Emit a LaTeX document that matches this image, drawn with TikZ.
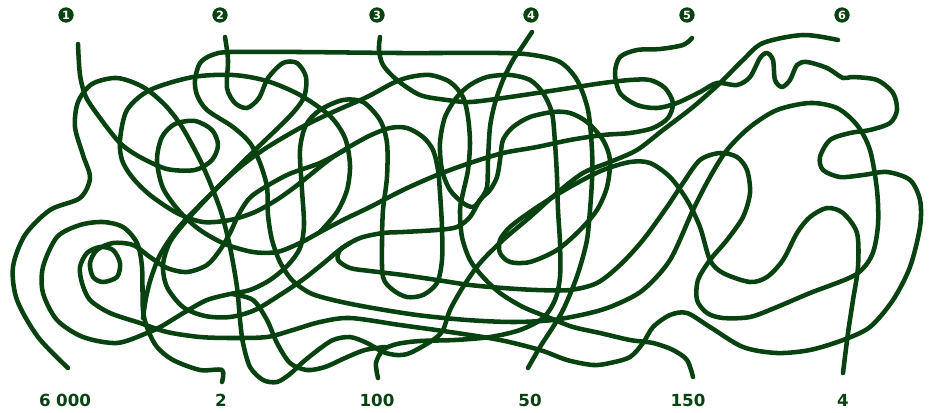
\documentclass[tikz,border=0pt]{standalone}
\usepackage{fontspec}
\setmainfont{DejaVu Sans}
\definecolor{ln}{RGB}{8,66,16}
\tikzset{
  wire/.style={draw=ln, line width=3.4pt, line cap=round, line join=round},
  toplab/.style={circle, fill=ln, inner sep=0pt, minimum size=11.5pt, text=white, font=\bfseries\fontsize{8.5}{8.5}\selectfont},
  botlab/.style={text=ln, inner sep=0pt, font=\bfseries\fontsize{12.5}{12.5}\selectfont}
}
\begin{document}
\begin{tikzpicture}[x=0.75pt,y=-0.75pt]
\useasboundingbox (0,0) rectangle (933,412);
% labels
\node[toplab] (t1) at (66,15) {1};
\node[toplab] (t2) at (220,15) {2};
\node[toplab] (t3) at (377,15) {3};
\node[toplab] (t4) at (531,15) {4};
\node[toplab] (t5) at (687,15) {5};
\node[toplab] (t6) at (842,15) {6};
\node[botlab] (b1) at (65,400) {6\,\,000};
\node[botlab] (b2) at (221,400) {2};
\node[botlab] (b3) at (377,400) {100};
\node[botlab] (b4) at (530,400) {50};
\node[botlab] (b5) at (688,400) {150};
\node[botlab] (b6) at (843,400) {4};
% line from 6 to 6 000
\draw[wire] plot[smooth] coordinates {(838,40) (803,35) (763,43) (743,60) (720,83) (693,107) (663,130) (637,150) (610,162) (583,173) (557,193) (530,217) (503,240) (480,263) (463,287) (450,310) (443,330) (433,340) (410,353) (397,355) (383,352) (367,343) (350,337) (333,340) (318,350) (303,362) (290,374) (277,382) (263,380) (250,367) (243,343) (240,320) (237,287) (230,247) (222,215) (213,190) (200,160) (182,127) (165,105) (143,87) (117,78) (92,84) (78,102) (75,127) (83,155) (90,178) (80,198) (50,210) (25,235) (13,267) (17,300) (38,337) (68,368)};
% line 1 ... loop ... line 3
\draw[wire] plot[smooth] coordinates {(78,44) (80,75) (86,97) (100,118) (120,143) (140,157) (167,169) (195,170) (212,160) (218,145) (212,130) (195,121) (175,124) (162,137) (157,160) (163,188) (180,212) (200,230) (225,244) (253,252) (277,252) (300,243) (322,231) (345,219) (370,207) (403,190) (437,175) (470,163) (503,153) (537,147) (570,140) (603,135) (630,133) (653,128) (668,118) (673,103) (665,88) (650,80) (630,80) (603,83) (570,88) (537,93) (503,98) (470,102) (447,100) (420,95) (397,80) (383,65) (379,50) (380,37)};
% big circle, U, teardrop to 2
\draw[wire] plot[smooth] coordinates {(320,232) (337,212) (347,190) (350,165) (345,138) (330,116) (300,95) (267,81) (233,75) (193,77) (150,90) (127,110) (120,140) (122,160) (132,177) (150,195) (177,213) (203,222) (230,220) (255,212) (278,199) (300,183) (333,157) (367,137) (390,128) (407,128) (423,137) (433,150) (438,170) (440,193) (442,227) (442,260) (437,283) (423,295) (407,297) (393,290) (383,277) (382,243) (383,210) (387,177) (387,143) (380,120) (363,102) (343,100) (320,110) (306,125) (300,150) (302,190) (304,225) (300,248) (288,265) (270,280) (250,290) (230,294) (207,300) (185,312) (162,326) (147,333) (117,343) (83,337) (57,320) (43,293) (43,267) (57,237) (80,225) (103,222) (123,227) (137,243) (142,267) (143,310) (148,330) (157,347) (173,360) (200,370) (222,370) (222,382)};
% line 2 to 4
\draw[wire] plot[smooth] coordinates {(225,37) (228,60) (227,88) (235,103) (247,108) (259,98) (268,78) (283,63) (297,63) (306,77) (304,97) (290,116) (253,152) (213,192) (187,220) (170,242) (163,265) (167,287) (183,307) (205,316) (230,317) (255,310) (283,293) (305,278) (325,262) (342,248) (360,238) (383,233) (403,232) (437,230) (457,227) (470,217) (480,200) (490,190) (497,177) (500,160) (503,140) (513,127) (530,117) (553,112) (570,113) (587,122) (603,140) (610,160) (607,187) (597,210) (580,230) (557,250) (530,262) (510,262) (500,253) (500,240) (510,227) (530,212) (553,197) (577,183) (603,170) (630,162) (650,163) (670,177) (687,200) (700,227) (710,260) (723,273) (750,282) (767,277) (783,260) (797,233) (810,217) (827,208) (843,213) (857,233) (858,267) (853,300) (848,333) (843,373)};
% rectangle from 50
\draw[wire] plot[smooth] coordinates {(528,368) (540,347) (553,327) (563,310) (573,287) (580,267) (587,240) (590,210) (592,180) (592,150) (588,110) (577,80) (560,62) (533,55) (500,53) (400,53) (300,52) (230,52) (212,55) (200,63) (195,80) (197,95) (207,110) (233,127) (250,143) (260,163) (267,187) (268,215) (272,240) (280,262) (292,280) (310,293) (333,300) (367,307) (417,315) (467,320) (513,322) (553,320) (590,313) (615,305) (643,290) (670,260) (693,210) (710,177) (727,150) (750,127) (777,110) (810,103) (837,108) (857,125) (870,150) (877,190) (878,225) (872,255) (855,275) (810,293) (777,307) (750,317) (723,318) (707,313) (697,300) (698,280) (710,260) (727,240) (743,217) (750,193) (747,170) (737,157) (720,153) (700,160) (683,183) (667,207) (643,240) (620,265) (597,283) (570,290) (537,290) (503,288) (470,285) (437,280) (403,275) (370,271) (350,268) (338,260) (340,250) (350,243)};
% line 4 to 100
\draw[wire] plot[smooth] coordinates {(532,32) (520,50) (513,60) (503,80) (495,103) (490,127) (488,160) (487,187) (480,200) (473,207) (463,203) (450,190) (442,170) (440,143) (445,117) (457,97) (470,85) (487,77) (510,75) (530,80) (543,93) (552,113) (555,143) (557,177) (558,210) (560,243) (560,277) (555,300) (543,318) (520,330) (490,337) (455,340) (420,341) (397,344) (383,350) (376,363) (378,378)};
% arc to 150
\draw[wire] plot[smooth] coordinates {(143,318) (146,298) (151,278) (160,255) (175,232) (193,212) (233,173) (263,150) (300,128) (333,112) (367,97) (393,83) (410,77) (430,75) (450,82) (463,97) (468,117) (470,143) (468,170) (463,193) (460,210) (462,237) (470,260) (483,277) (500,293) (523,307) (550,318) (573,327) (600,333) (630,340) (653,343) (673,350) (687,360) (693,377)};
% small loop ... line 5
\draw[wire] plot[smooth] coordinates {(345,150) (320,163) (287,175) (253,195) (240,212) (230,233) (220,250) (207,265) (187,272) (167,268) (150,257) (133,245) (113,243) (97,250) (90,263) (93,277) (103,282) (117,277) (120,263) (113,250) (100,247) (87,253) (80,267) (82,283) (90,300) (110,313) (140,323) (167,332) (200,337) (233,338) (267,337) (293,330) (320,322) (350,318) (400,325) (450,332) (500,340) (540,350) (567,360) (593,365) (610,363) (630,357) (643,343) (653,327) (670,315) (687,313) (710,327) (743,347) (777,353) (810,350) (843,340) (870,327) (893,300) (910,267) (920,227) (920,200) (910,180) (887,172) (863,175) (840,177) (823,170) (820,157) (830,140) (850,133) (870,130) (890,123) (897,110) (893,93) (877,80) (853,77) (843,78) (827,68) (807,62) (797,65) (790,80) (782,87) (775,80) (773,60) (767,53) (760,58) (750,77) (737,85) (717,83) (700,92) (677,103) (657,108) (637,105) (620,93) (615,73) (620,57) (637,50) (660,49) (683,45) (692,38)};
% bump
\draw[wire] plot[smooth] coordinates {(232,294) (253,300) (267,320) (277,343) (290,363) (307,370) (325,367) (345,358) (365,350) (385,347)};
\end{tikzpicture}
\end{document}
